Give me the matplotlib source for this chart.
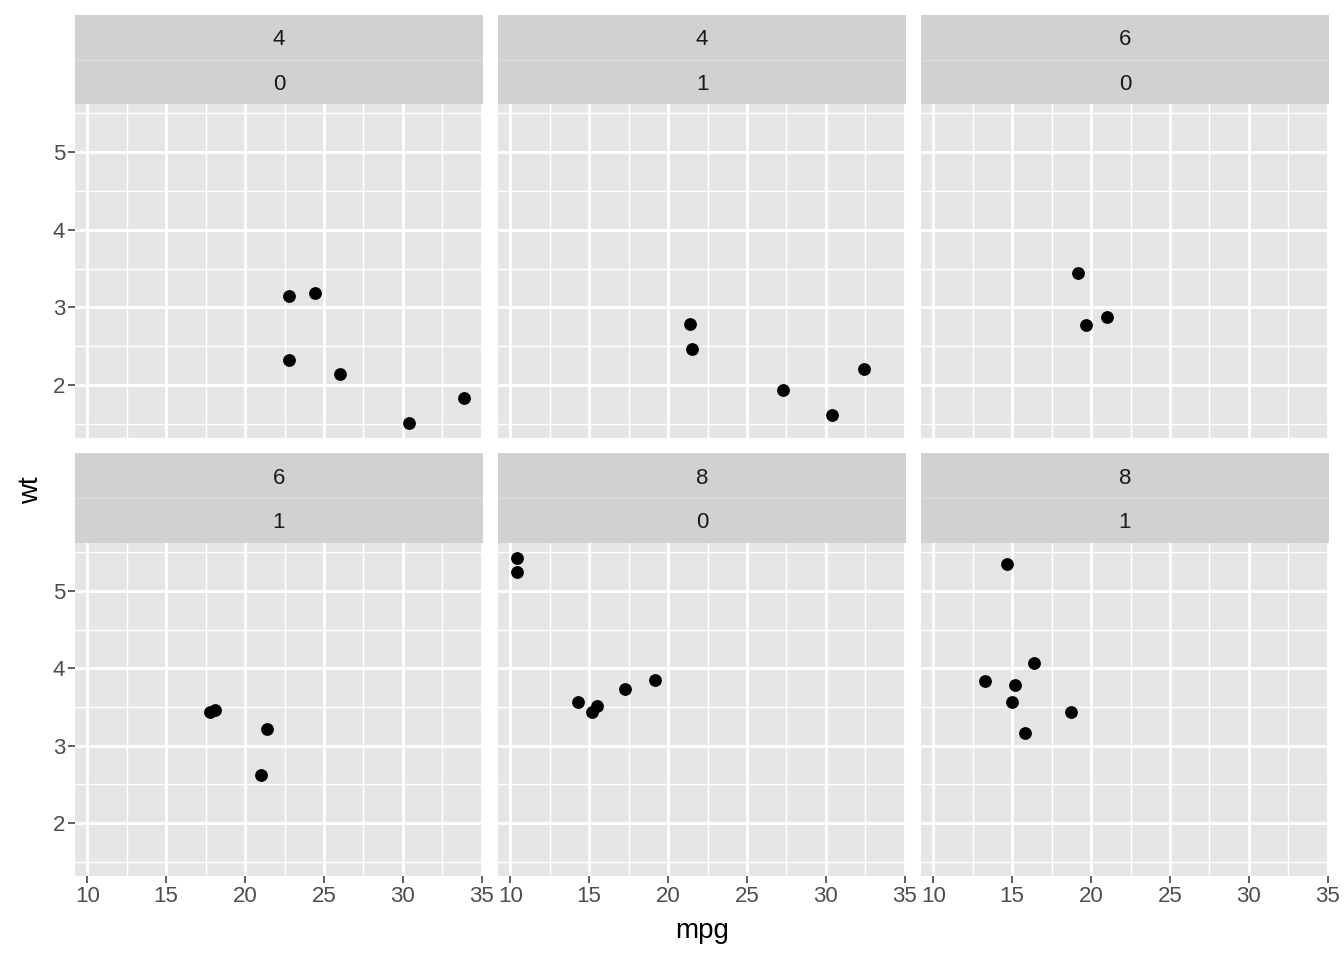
import matplotlib
matplotlib.use("Agg")
import matplotlib.pyplot as plt
import numpy as np

plt.rcParams["font.family"] = ["Liberation Sans", "DejaVu Sans"]

# facet labels (cyl, am) in panel order
facet_cyl = ["4", "4", "6", "6", "8", "8"]
facet_am = ["0", "1", "0", "1", "0", "1"]

# mpg / wt per panel
mpg = [
    [22.8, 24.4, 22.8, 26.0, 30.4, 33.9],
    [21.4, 21.5, 27.3, 30.4, 32.4],
    [19.2, 19.7, 21.0],
    [17.8, 18.1, 21.4, 21.0],
    [10.4, 10.4, 14.3, 15.2, 15.5, 17.3, 19.2],
    [14.7, 16.4, 13.3, 15.2, 15.0, 18.7, 15.8],
]
wt = [
    [3.150, 3.190, 2.320, 2.140, 1.513, 1.835],
    [2.780, 2.465, 1.935, 1.615, 2.200],
    [3.440, 2.770, 2.875],
    [3.440, 3.460, 3.215, 2.620],
    [5.424, 5.250, 3.570, 3.435, 3.520, 3.730, 3.845],
    [5.345, 4.070, 3.840, 3.780, 3.570, 3.440, 3.170],
]

x_ticks = [10, 15, 20, 25, 30, 35]
y_ticks = [2, 3, 4, 5]

W, H = 1344, 960
PANEL_BG = "#E5E5E5"
STRIP_BG = "#D1D1D1"


def px_box(x0, y0, x1, y1):
    # pixel box (top-left origin) -> figure fraction rect
    return [x0 / W, 1 - y1 / H, (x1 - x0) / W, (y1 - y0) / H]


def limits(values):
    lo, hi = min(values), max(values)
    pad = (hi - lo) * 0.05
    return lo - pad, hi + pad


all_mpg = [v for p in mpg for v in p]
all_wt = [v for p in wt for v in p]
xlim = limits(all_mpg)
ylim = limits(all_wt)

fig = plt.figure(figsize=(W / 100, H / 100), dpi=100)

cols = [(75, 483), (498, 906), (921, 1329)]
rows = [((15, 104), (104, 438)), ((453, 543), (543, 876))]

for i in range(6):
    r, c = divmod(i, 3)
    x0, x1 = cols[c]
    (s0, s1), (p0, p1) = rows[r]

    # strip with two label rows
    sax = fig.add_axes(px_box(x0, s0, x1, s1))
    sax.set_facecolor(STRIP_BG)
    sax.set_xlim(0, 1)
    sax.set_ylim(0, 2)
    sax.axhline(1, color="#DCDCDC", lw=1.0)
    sax.text(0.5, 1.5, facet_cyl[i], ha="center", va="center_baseline",
             fontsize=16, color="#1A1A1A")
    sax.text(0.5, 0.5, facet_am[i], ha="center", va="center_baseline",
             fontsize=16, color="#1A1A1A")
    sax.set_xticks([])
    sax.set_yticks([])
    for sp in sax.spines.values():
        sp.set_visible(False)

    ax = fig.add_axes(px_box(x0, p0, x1, p1))
    ax.set_facecolor(PANEL_BG)
    ax.set_xlim(*xlim)
    ax.set_ylim(*ylim)
    ax.set_xticks(x_ticks)
    ax.set_yticks(y_ticks)
    ax.set_xticks(np.arange(12.5, 35, 5), minor=True)
    ax.set_yticks(np.arange(1.5, 5.6, 1.0), minor=True)
    ax.grid(which="major", color="white", lw=2.1)
    ax.grid(which="minor", color="white", lw=1.0)
    ax.set_axisbelow(True)
    for sp in ax.spines.values():
        sp.set_visible(False)

    ax.scatter(mpg[i], wt[i], s=85, color="black", linewidths=0, zorder=3)

    ax.tick_params(which="minor", length=0)
    ax.tick_params(which="major", length=5.2, width=1.1, color="#333333",
                   labelsize=16, labelcolor="#4D4D4D", pad=2)
    if c != 0:
        ax.tick_params(axis="y", left=False, labelleft=False)
    if r != 1:
        ax.tick_params(axis="x", bottom=False, labelbottom=False)

fig.text(702 / W, 1 - 931 / H, "mpg", ha="center", va="center",
         fontsize=20, color="black")
fig.text(31 / W, 1 - 490 / H, "wt", ha="center", va="center",
         fontsize=20, color="black", rotation=90)

fig.savefig("out.png", dpi=100, facecolor="white")
